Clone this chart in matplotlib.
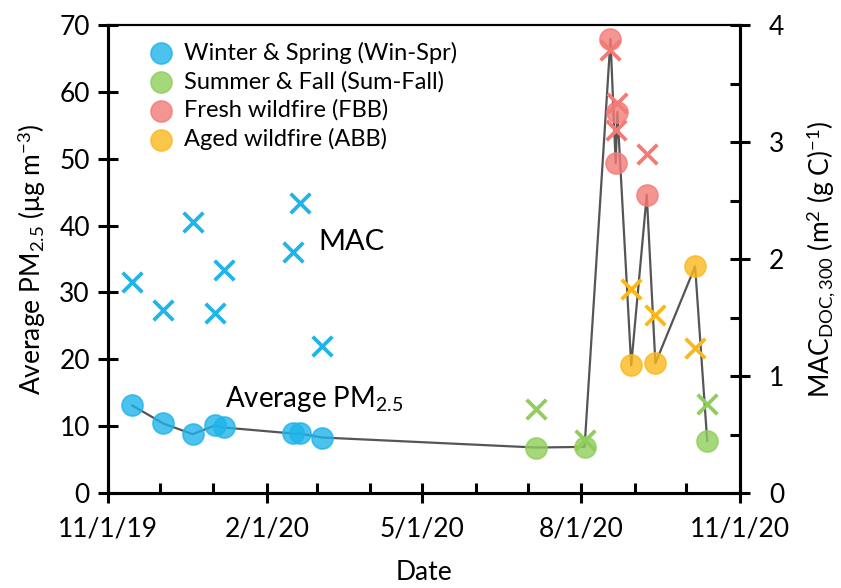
import datetime as dt
import matplotlib
matplotlib.use("Agg")
import matplotlib.pyplot as plt
import matplotlib.dates as mdates
from matplotlib.ticker import FuncFormatter, MultipleLocator

plt.rcParams['font.family'] = ['Lato', 'DejaVu Sans']
plt.rcParams['mathtext.fontset'] = 'custom'
plt.rcParams['mathtext.rm'] = 'Lato'
plt.rcParams['mathtext.it'] = 'Lato:italic'

# sample dates and values
dates = ['2019-11-15', '2019-12-03', '2019-12-20', '2020-01-02', '2020-01-07',
         '2020-02-16', '2020-02-20', '2020-03-04', '2020-07-06', '2020-08-03',
         '2020-08-18', '2020-08-21', '2020-08-22', '2020-08-30', '2020-09-08',
         '2020-09-13', '2020-10-06', '2020-10-13']
pm25 = [13.1, 10.4, 8.8, 10.1, 9.8, 8.9, 8.9, 8.3, 6.8, 6.9,
        67.9, 49.3, 57.0, 19.1, 44.6, 19.4, 33.9, 7.8]
mac = [1.80, 1.56, 2.32, 1.54, 1.91, 2.06, 2.48, 1.26, 0.72, 0.45,
       3.79, 3.10, 3.33, 1.74, 2.90, 1.52, 1.24, 0.76]
group = ['Win-Spr'] * 8 + ['Sum-Fall'] * 2 + ['FBB'] * 3 + ['ABB', 'FBB', 'ABB', 'ABB', 'Sum-Fall']

groups = ['Win-Spr', 'Sum-Fall', 'FBB', 'ABB']
labels = ['Winter & Spring (Win-Spr)', 'Summer & Fall (Sum-Fall)',
          'Fresh wildfire (FBB)', 'Aged wildfire (ABB)']
colors = ['#1fb4ea', '#8fce5a', '#f37b76', '#fbb81c']

x = [dt.datetime.strptime(d, '%Y-%m-%d') for d in dates]

fig = plt.figure(figsize=(8.41, 5.88), dpi=100)
ax = fig.add_axes([108 / 841, 95 / 588, 632 / 841, 468 / 588])
ax2 = ax.twinx()

ax.plot(x, pm25, color='#555555', lw=1.6, zorder=2)
for g, lab, c in zip(groups, labels, colors):
    xs = [xi for xi, gi in zip(x, group) if gi == g]
    ys = [yi for yi, gi in zip(pm25, group) if gi == g]
    ms = [mi for mi, gi in zip(mac, group) if gi == g]
    ax.scatter(xs, ys, s=230, color=c, alpha=0.8, edgecolors=c, linewidths=1.2,
               zorder=3, label=lab)
    ax2.scatter(xs, ms, s=200, marker='x', color=c, linewidths=2.7, zorder=3)

ax.set_xlim(dt.datetime(2019, 11, 1), dt.datetime(2020, 11, 1))
ax.set_ylim(0, 70)
ax2.set_ylim(0, 4)

ax.xaxis.set_major_locator(mdates.MonthLocator(bymonth=[2, 5, 8, 11]))
ax.xaxis.set_minor_locator(mdates.MonthLocator())
ax.xaxis.set_major_formatter(FuncFormatter(
    lambda v, p: (lambda d: f"{d.month}/{d.day}/{d.strftime('%y')}")(mdates.num2date(v))))
ax.yaxis.set_major_locator(MultipleLocator(10))
ax2.yaxis.set_major_locator(MultipleLocator(1))
ax2.yaxis.set_minor_locator(MultipleLocator(0.5))

for a in (ax, ax2):
    for s in a.spines.values():
        s.set_linewidth(2.2)
    a.spines['top'].set_linewidth(1.5)
ax.tick_params(axis='both', which='major', direction='inout', length=14, width=2.2,
               labelsize=19, pad=6)
ax.tick_params(axis='x', which='minor', direction='in', length=7, width=2.2)
ax.tick_params(axis='x', which='major', pad=10)
ax2.tick_params(axis='y', which='major', direction='inout', length=14, width=2.2,
                labelsize=19, pad=14)
ax2.tick_params(axis='y', which='minor', direction='in', length=7, width=2.2)

ax.set_xlabel('Date', fontsize=19, labelpad=13)
ax.set_ylabel('Average PM$_{2.5}$ (\u03bcg m$^{-3}$)', fontsize=19, labelpad=8)
ax2.set_ylabel('MAC$_{\\mathrm{DOC,300}}$ (m$^{2}$ (g C)$^{-1}$)', fontsize=19, labelpad=14)

ax.text(dt.datetime(2020, 3, 2), 36.3, 'MAC', fontsize=21)
ax.text(dt.datetime(2020, 1, 8), 12.8, 'Average PM$_{2.5}$', fontsize=20)

ax.legend(loc='upper left', bbox_to_anchor=(0.02, 1.0), frameon=False, fontsize=17,
          handletextpad=0.0, labelspacing=0.3, borderaxespad=0.3)

plt.savefig('out.png', dpi=100)
